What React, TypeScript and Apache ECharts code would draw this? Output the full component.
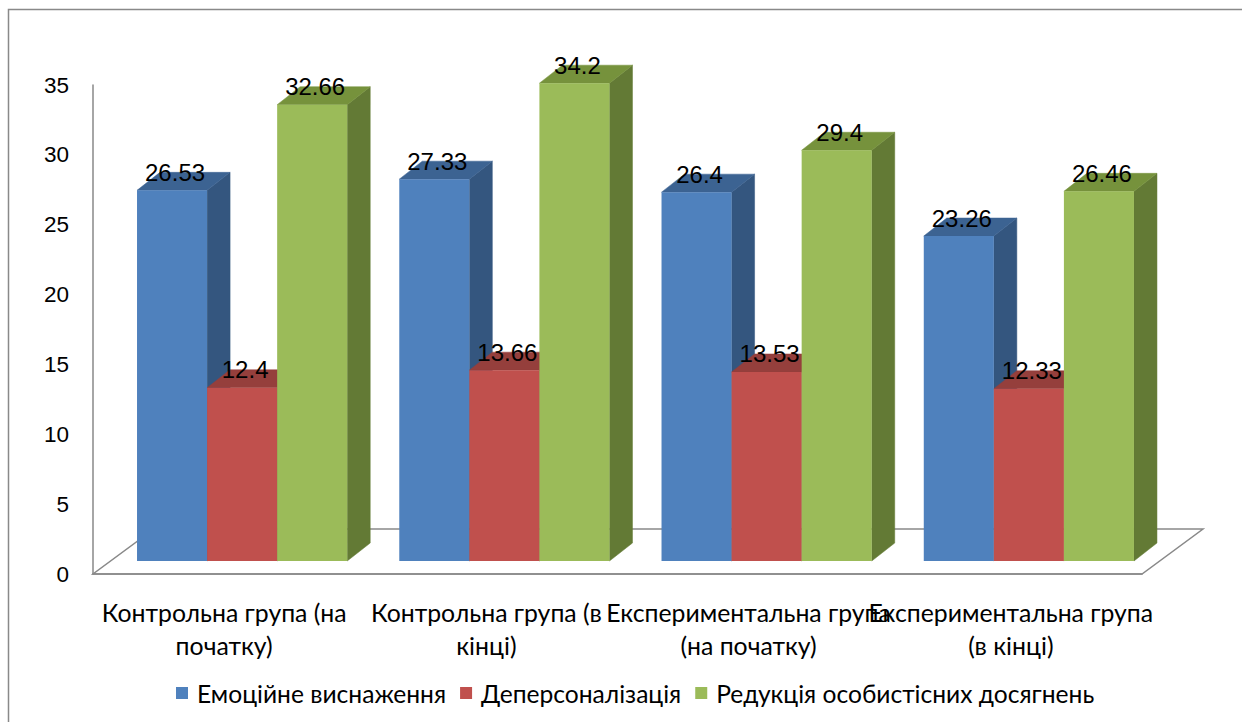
import React, { useEffect, useRef } from "react";
import * as echarts from "echarts";

const categories = [
  "Контрольна група (на\nпочатку)",
  "Контрольна група (в\nкінці)",
  "Експериментальна група\n(на початку)",
  "Експериментальна група\n(в кінці)",
];
const seriesNames = [
  "Емоційне виснаження",
  "Деперсоналізація",
  "Редукція особистісних досягнень",
];
const emotional = [26.53, 27.33, 26.4, 23.26];
const depersonal = [12.4, 13.66, 13.53, 12.33];
const reduction = [32.66, 34.2, 29.4, 26.46];
const Y_MIN = 0;
const Y_MAX = 35;
const Y_STEP = 5;

const FRONT = ["#4F81BD", "#C0504D", "#9BBB59"];
const TOP = ["#3C6392", "#953F3C", "#76923C"];
const SIDE = ["#34567F", "#8A3836", "#637A35"];

const W = 1242;
const H = 722;
const GRID = { left: 93, right: 100, top: 85, bottom: 148 };
const FLOOR_DEPTH = [61, -45];
const BAR_SHIFT = [18, -13];
const BAR_DEPTH = [23, -18];
const BAR_RATIO = 70 / 262;
const AXIS_COLOR = "#898989";

export default function App() {
  const ref = useRef<HTMLDivElement>(null);
  useEffect(() => {
    if (!ref.current) return;
    const chart = echarts.init(ref.current, null, { renderer: "svg" });
    const allSeries = [emotional, depersonal, reduction];

    const makeRender = (si: number) => (params: any, api: any) => {
      const cat = api.value(0);
      const v = api.value(1);
      const base = api.coord([cat, 0]);
      const top = api.coord([cat, v]);
      const catW = api.size([1, 0])[0];
      const bw = catW * BAR_RATIO;
      const cx = base[0] + BAR_SHIFT[0] + (si - 1) * bw;
      const x0 = cx - bw / 2;
      const x1 = cx + bw / 2;
      const yb = base[1] + BAR_SHIFT[1];
      const yt = top[1] + BAR_SHIFT[1];
      const [dx, dy] = BAR_DEPTH;
      return {
        type: "group",
        children: [
          {
            type: "polygon",
            shape: { points: [[x1, yb], [x1, yt], [x1 + dx, yt + dy], [x1 + dx, yb + dy]] },
            style: { fill: SIDE[si], stroke: SIDE[si], lineWidth: 0.5 },
          },
          {
            type: "polygon",
            shape: { points: [[x0, yt], [x1, yt], [x1 + dx, yt + dy], [x0 + dx, yt + dy]] },
            style: { fill: TOP[si], stroke: TOP[si], lineWidth: 0.5 },
          },
          {
            type: "rect",
            shape: { x: x0, y: yt, width: bw, height: yb - yt },
            style: { fill: FRONT[si] },
          },
          {
            type: "text",
            z2: 100,
            x: cx + 3,
            y: yt - 18,
            style: {
              text: String(v),
              fill: "#000",
              font: '24px "Liberation Sans"',
              align: "center",
              verticalAlign: "middle",
            },
          },
        ],
      };
    };

    const floorY = H - GRID.bottom;
    const fl = GRID.left;
    const fr = W - GRID.right;

    chart.setOption({
      animation: false,
      backgroundColor: "#fff",
      grid: {
        left: GRID.left,
        right: GRID.right,
        top: GRID.top,
        bottom: GRID.bottom,
        containLabel: false,
        outerBoundsMode: "none",
      },
      graphic: [
        {
          type: "rect",
          z: 0,
          shape: { x: 8.5, y: 9.5, width: 1400, height: 900 },
          style: { fill: "none", stroke: AXIS_COLOR, lineWidth: 1.5 },
        },
        {
          type: "polygon",
          z: 0,
          shape: {
            points: [
              [fl, floorY],
              [fr, floorY],
              [fr + FLOOR_DEPTH[0], floorY + FLOOR_DEPTH[1]],
              [fl + FLOOR_DEPTH[0], floorY + FLOOR_DEPTH[1]],
            ],
          },
          style: { fill: "none", stroke: AXIS_COLOR, lineWidth: 1.5 },
        },
      ],
      legend: {
        data: seriesNames,
        left: 171,
        top: 674,
        icon: "rect",
        itemWidth: 12,
        itemHeight: 12,
        itemGap: 14,
        textStyle: {
          fontFamily: "Lato",
          fontSize: 24.6,
          color: "#000",
          lineHeight: 28,
          padding: [0, 0, 0, 4],
        },
      },
      xAxis: {
        type: "category",
        data: categories,
        axisLine: { show: true, lineStyle: { color: AXIS_COLOR, width: 1.5 } },
        axisTick: { show: false },
        splitLine: { show: false },
        axisLabel: {
          interval: 0,
          fontFamily: "Lato",
          fontSize: 24.8,
          color: "#000",
          lineHeight: 33,
          margin: 22,
        },
      },
      yAxis: {
        type: "value",
        min: Y_MIN,
        max: Y_MAX,
        interval: Y_STEP,
        axisLine: { show: true, lineStyle: { color: AXIS_COLOR, width: 1.5 } },
        axisTick: { show: false },
        splitLine: { show: false },
        axisLabel: {
          fontFamily: "Liberation Sans",
          fontSize: 22.5,
          color: "#000",
          margin: 24,
          padding: [6, 0, 0, 0],
        },
      },
      series: allSeries.map((vals, si) => ({
        type: "custom",
        name: seriesNames[si],
        itemStyle: { color: FRONT[si] },
        encode: { x: 0, y: 1 },
        data: vals.map((v, k) => [k, v]),
        renderItem: makeRender(si),
      })),
    });
    return () => chart.dispose();
  }, []);
  return (
    <div
      ref={ref}
      style={{ position: "absolute", left: 0, top: 0, width: W, height: H }}
    />
  );
}
